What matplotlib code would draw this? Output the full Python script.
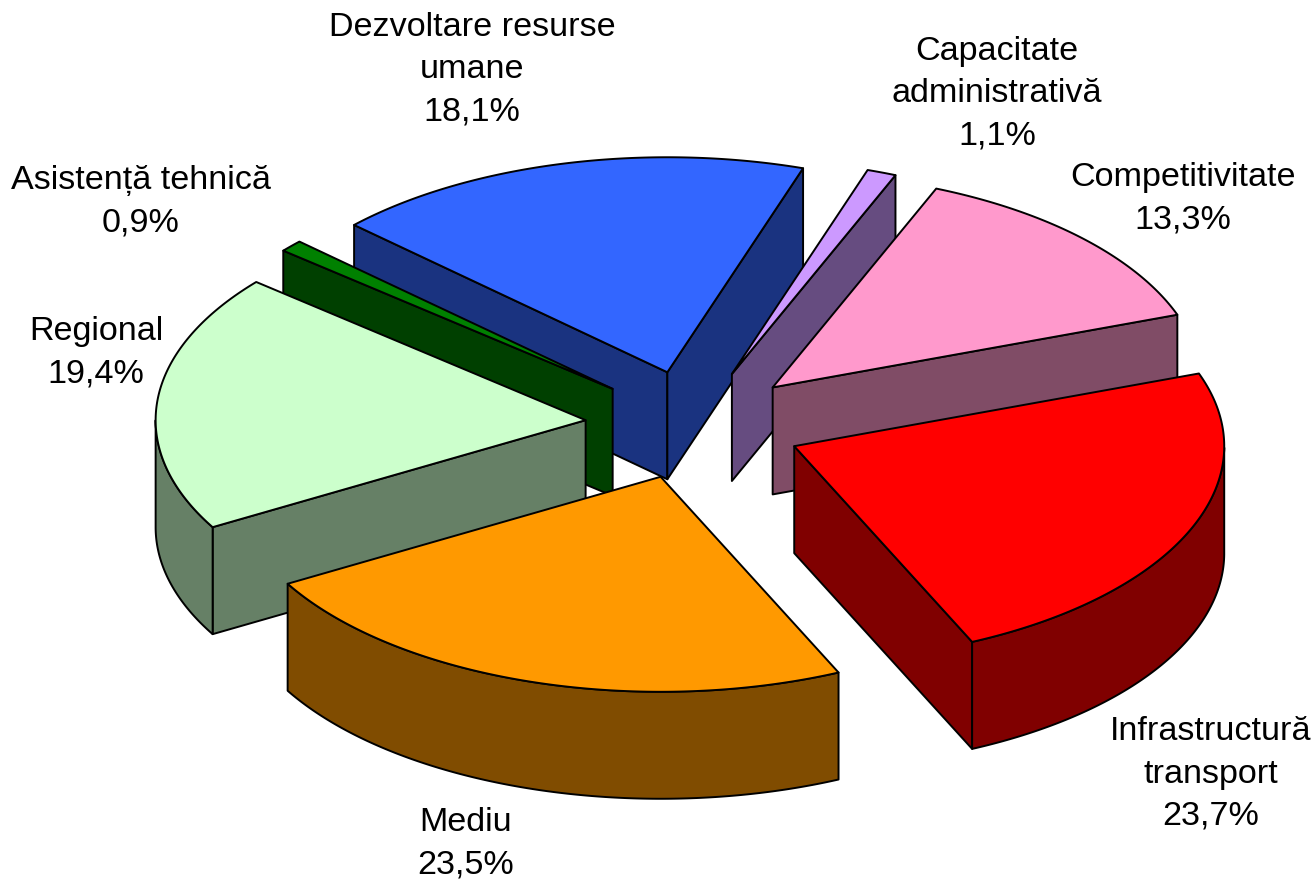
#!/usr/bin/env python3
# -*- coding: utf-8 -*-
import numpy as np
import matplotlib
matplotlib.use('Agg')
import matplotlib.pyplot as plt
from matplotlib.patches import Polygon

# clockwise from the top right
names = ['Capacitate\nadministrativă', 'Competitivitate', 'Infrastructură\ntransport',
         'Mediu', 'Regional', 'Asistență tehnică', 'Dezvoltare resurse\numane']
shares = [1.1, 13.3, 23.7, 23.5, 19.4, 0.9, 18.1]

top_colors = ['#CC99FF', '#FF99CC', '#FF0000', '#FF9900', '#CCFFCC', '#008000', '#3366FF']
side_colors = ['#664C80', '#804C66', '#800000', '#804C00', '#668066', '#004000', '#1A3380']

label_xy = [(997, 94), (1183, 199), (1211, 774), (466, 844), (96, 353), (141, 202), (472, 70)]

# painter's order, back to front
draw_order = [6, 5, 4, 0, 1, 2, 3]

cx, cy = 694, 425
rx, ry = 430, 215
depth = 107
explode = 54.4 / 215
start_angle = 71.6

plt.rcParams['font.family'] = ['Liberation Sans', 'DejaVu Sans']

fig = plt.figure(figsize=(13.16, 8.81), dpi=100, facecolor='white')
ax = fig.add_axes([0, 0, 1, 1])
ax.set_xlim(0, 1316)
ax.set_ylim(881, 0)
ax.axis('off')


def project(t, r=1.0, ox=0.0, oy=0.0):
    return ox + r * rx * np.cos(t), oy - r * ry * np.sin(t)


def add_poly(xs, ys, color, z):
    ax.add_patch(Polygon(np.column_stack([xs, ys]), closed=True, facecolor=color,
                         edgecolor='black', linewidth=1.4, joinstyle='round', zorder=z))


edges = np.radians(start_angle - np.cumsum([0] + shares) * 3.6)
edges[-1] = edges[0] - 2 * np.pi

for z, i in enumerate(draw_order):
    t1, t2 = edges[i], edges[i + 1]
    mid = (t1 + t2) / 2
    ox, oy = project(mid, explode, cx, cy)
    z = z * 10

    # radial walls facing the viewer
    if np.cos(t1) < 0:
        px, py = project(t1, 1.0, ox, oy)
        add_poly([ox, px, px, ox], [oy, py, py + depth, oy + depth], side_colors[i], z + 1)
    if np.cos(t2) > 0:
        px, py = project(t2, 1.0, ox, oy)
        add_poly([ox, px, px, ox], [oy, py, py + depth, oy + depth], side_colors[i], z + 1)

    # outer rim, only the part below the horizontal axis shows
    t = np.linspace(t1, t2, 200)
    t = t[np.sin(t) <= 0]
    if len(t) > 1:
        x, y = project(t, 1.0, ox, oy)
        add_poly(np.r_[x, x[::-1]], np.r_[y, y[::-1] + depth], side_colors[i], z + 2)

    # top face
    t = np.linspace(t1, t2, 200)
    x, y = project(t, 1.0, ox, oy)
    add_poly(np.r_[ox, x], np.r_[oy, y], top_colors[i], z + 3)

for name, share, (lx, ly) in zip(names, shares, label_xy):
    ax.text(lx, ly, name + '\n' + f'{share:.1f}'.replace('.', ',') + '%', ha='center', va='center',
            fontsize=24.6, color='black', linespacing=1.47, zorder=200)

fig.savefig('out.png', dpi=100)
